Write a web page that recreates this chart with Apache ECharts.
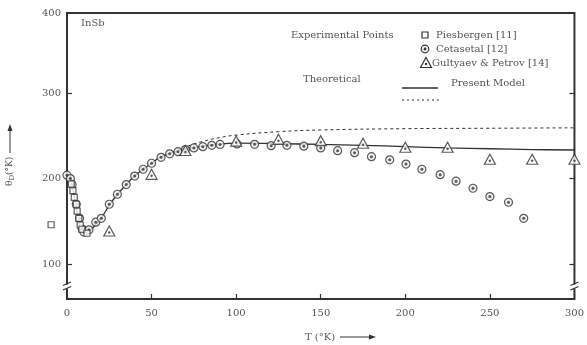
<!DOCTYPE html>
<html><head><meta charset="utf-8">
<script src="https://cdn.jsdelivr.net/npm/echarts@6/dist/echarts.min.js"></script>
<style>html,body{margin:0;padding:0;background:#fff}#c{width:587px;height:345px}</style>
</head><body><div id="c"></div>
<script>
// ---- data ----
const yLabelValues = [100, 200, 300, 400];
const xTickInterval = 50;

const cetT = [0,2,3,5.5,7.4,9,10,13,17,20.3,25,29.8,35,40,45,50,55.6,60.7,65.6,70,75,80.3,85.6,90.5,100.5,110.9,120.7,130,140,150,160,170,180,190.8,200.4,209.8,220.6,230,240,250,261,270];
const cetTheta = [204,200,193,170,153.5,141,137.5,140,149,153.5,170,181.7,193,203,211,218,225,229,231.6,234,236,237.4,239,240,240.6,240.2,238.6,239,238,236,232.7,230.4,225.7,222,217,211,204.6,197,188.7,179,172.3,153.5];

const piesT = [-9.4,2.5,3.5,4.3,5.5,6,7,7.8,8.8,11.8];
const piesTheta = [146,193.7,186,178,170,162,153.5,145.7,140.7,136];

const gulT = [25,50,70,100,125,150,175,200,225,250,275,300];
const gulTheta = [138.7,205,233,244,246,244.5,241.4,236.7,236.7,222.7,222.7,222.7];

const presentT = [0,2,4,6,8,10,12,15,20,25,30,35,40,45,50,55,60,65,70,80,90,100,125,150,175,200,225,250,275,300];
const presentTheta = [204,200,182,160,143,137,137,142,153,169,182,193,203,211,218,225,229,232,235,238,240.5,241.5,241,240,239,237.5,236,235,234,233.5];

const otherT = [55,60,65,70,75,80,90,100,125,150,200,250,300];
const otherTheta = [225,229,233,237,240.5,243.5,248,251,255,257,258.5,259,259.5];

const zip = (a, b) => a.map((v, i) => [v, b[i]]);

const FONT = 'DejaVu Serif';
const TXT = '#555';
const INK = '#333';

const chart = echarts.init(document.getElementById('c'), null, {renderer: 'canvas'});
const yMin = 59, yMax = 394;

const option = {
  animation: false,
  backgroundColor: '#fff',
  grid: {left: 67, right: 10, top: 13, bottom: 46, show: true, borderColor: INK, borderWidth: 2, backgroundColor: 'transparent'},
  xAxis: {
    type: 'value', min: 0, max: 300, interval: xTickInterval,
    axisLine: {show: false},
    axisTick: {show: true, inside: true, length: 5, lineStyle: {color: INK, width: 1.2}},
    splitLine: {show: false},
    axisLabel: {color: TXT, fontFamily: FONT, fontSize: 10, margin: 9, showMaxLabel: true, showMinLabel: true}
  },
  yAxis: [{
    type: 'value', min: yMin, max: yMax,
    axisLine: {show: false},
    splitLine: {show: false},
    axisTick: {show: true, inside: true, length: 5, customValues: [100, 200, 300], lineStyle: {color: INK, width: 1.2}},
    axisLabel: {color: TXT, fontFamily: FONT, fontSize: 10, margin: 6,
      customValues: [100, 200, 300, yMax],
      formatter: v => v > 390 ? String(yLabelValues[3]) : String(v)}
  }, {
    type: 'value', min: yMin, max: yMax, position: 'right',
    axisLine: {show: false},
    splitLine: {show: false},
    axisLabel: {show: false},
    axisTick: {show: true, inside: true, length: 5, customValues: [100, 200, 300], lineStyle: {color: INK, width: 1.2}}
  }],
  series: [
    {type: 'line', data: zip(presentT, presentTheta), smooth: 0.4, showSymbol: false, clip: false,
      lineStyle: {color: INK, width: 1.3}, z: 2, silent: true},
    {type: 'line', data: zip(otherT, otherTheta), smooth: 0.4, showSymbol: false, clip: false,
      lineStyle: {color: INK, width: 1, type: [3, 3]}, z: 2, silent: true},
    {type: 'scatter', data: zip(cetT, cetTheta), symbol: 'circle', symbolSize: 8, clip: false,
      itemStyle: {color: '#eee', borderColor: INK, borderWidth: 1.2}, z: 3, silent: true},
    {type: 'scatter', data: zip(cetT, cetTheta), symbol: 'circle', symbolSize: 3, clip: false,
      itemStyle: {color: INK}, z: 4, silent: true},
    {type: 'scatter', data: zip(piesT, piesTheta), symbol: 'rect', symbolSize: 6, clip: false,
      itemStyle: {color: '#fff', borderColor: INK, borderWidth: 1.2}, z: 5, silent: true},
    {type: 'scatter', data: zip(gulT, gulTheta), symbol: 'triangle', symbolSize: [11, 10], clip: false,
      itemStyle: {color: '#fff', borderColor: INK, borderWidth: 1.2}, z: 6, silent: true},
    {type: 'scatter', data: zip(gulT, gulTheta), symbol: 'circle', symbolSize: 2.5, symbolOffset: [0, 1.5], clip: false,
      itemStyle: {color: INK}, z: 7, silent: true}
  ]
};
chart.setOption(option);

// ---- static annotations / legend ----
const t = (x, y, s, extra) => Object.assign({type: 'text', x, y, style: {text: s, fill: TXT, font: '10px ' + FONT, textVerticalAlign: 'middle'}}, extra || {});
const g = [];
g.push(t(81, 23, 'InSb'));
g.push(t(291, 35, 'Experimental Points'));
g.push({type: 'rect', shape: {x: 422, y: 32, width: 6, height: 6}, style: {fill: '#fff', stroke: INK, lineWidth: 1.2}});
g.push(t(436, 35, 'Piesbergen [11]'));
g.push({type: 'circle', shape: {cx: 425, cy: 49, r: 3.8}, style: {fill: '#eee', stroke: INK, lineWidth: 1.2}});
g.push({type: 'circle', shape: {cx: 425, cy: 49, r: 1.4}, style: {fill: INK}});
g.push(t(436, 49, 'Cetasetal [12]'));
g.push({type: 'polygon', shape: {points: [[426, 57.5], [431.5, 67.5], [420.5, 67.5]]}, style: {fill: '#fff', stroke: INK, lineWidth: 1.2}});
g.push({type: 'circle', shape: {cx: 426, cy: 64, r: 1.2}, style: {fill: INK}});
g.push(t(432, 63, 'Gultyaev & Petrov [14]'));
g.push(t(303, 79, 'Theoretical'));
g.push({type: 'line', shape: {x1: 402, y1: 88, x2: 438, y2: 88}, style: {stroke: INK, lineWidth: 1.4}});
g.push(t(451, 83, 'Present Model'));
g.push({type: 'line', shape: {x1: 402, y1: 100, x2: 442, y2: 100}, style: {stroke: INK, lineWidth: 1, lineDash: [2, 3]}});

// x axis title
g.push(t(305, 337, 'T (°K)'));
g.push({type: 'line', shape: {x1: 340, y1: 337, x2: 372, y2: 337}, style: {stroke: INK, lineWidth: 1}});
g.push({type: 'polygon', shape: {points: [[376, 337], [369, 334.5], [369, 339.5]]}, style: {fill: INK}});

// y axis title (rotated)
g.push({type: 'text', x: 10, y: 186, rotation: Math.PI / 2,
  style: {text: '{a|θ}{s|D}{a|(°K)}', fill: TXT, textVerticalAlign: 'middle',
    rich: {a: {fontFamily: FONT, fontSize: 9, fill: TXT}, s: {fontFamily: FONT, fontSize: 7, fill: TXT, padding: [4, 0, 0, 0]}}}});
g.push({type: 'line', shape: {x1: 10, y1: 153, x2: 10, y2: 128}, style: {stroke: INK, lineWidth: 1}});
g.push({type: 'polygon', shape: {points: [[10, 124], [7.5, 131], [12.5, 131]]}, style: {fill: INK}});

// axis break marks
[[0, 0], [300, 1]].forEach(([xv, ax]) => {
  const p = chart.convertToPixel({xAxisIndex: 0, yAxisIndex: ax}, [xv, 73]);
  const x = p[0], y = p[1];
  g.push({type: 'rect', shape: {x: x - 3, y: y - 2.5, width: 6, height: 4}, style: {fill: '#fff'}, z: 100});
  g.push({type: 'line', shape: {x1: x - 4, y1: y - 1.5, x2: x + 4, y2: y - 5}, style: {stroke: INK, lineWidth: 1.2}, z: 101});
  g.push({type: 'line', shape: {x1: x - 4, y1: y + 3, x2: x + 4, y2: y - 0.5}, style: {stroke: INK, lineWidth: 1.2}, z: 101});
});
chart.setOption({graphic: g});
</script>
</body></html>
